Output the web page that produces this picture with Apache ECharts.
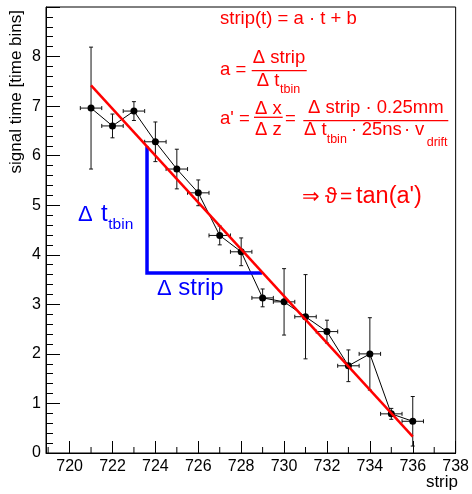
<!DOCTYPE html>
<html><head><meta charset="utf-8">
<script src="https://cdn.jsdelivr.net/npm/echarts@6/dist/echarts.min.js"></script>
<style>html,body{margin:0;padding:0;background:#fff}#c{width:472px;height:494px}</style>
</head><body><div id="c"></div>
<script>
// ---- data ----
const strips    = [721, 722, 723, 724, 725, 726, 727, 728, 729, 730, 731, 732, 733, 734, 735, 736];
const times     = [6.96, 6.60, 6.90, 6.28, 5.73, 5.25, 4.39, 4.06, 3.13, 3.05, 2.75, 2.45, 1.76, 2.00, 0.79, 0.64];
const timeErrs  = [1.23, 0.24, 0.19, 0.40, 0.40, 0.26, 0.19, 0.28, 0.18, 0.67, 0.85, 0.23, 0.32, 0.73, 0.11, 0.50];
const stripErrs = [0.5, 0.5, 0.5, 0.5, 0.5, 0.5, 0.5, 0.5, 0.5, 0.5, 0.5, 0.5, 0.5, 0.5, 0.5, 0.5];
const fitStrips = [721, 736];
const fitTimes  = [7.42, 0.33];
const triangleStrips = [723.61, 723.61, 728.97];
const triangleTimes  = [6.19, 3.63, 3.63];
const xMajorTicks = [720, 722, 724, 726, 728, 730, 732, 734, 736, 738];
const xTickLabels = ['720', '722', '724', '726', '728', '730', '732', '734', '736', '738'];
const xMinorTicks = [719, 721, 723, 725, 727, 729, 731, 733, 735, 737];
const yTickLabels = ['0', '1', '2', '3', '4', '5', '6', '7', '8', ''];

const FF = '"Liberation Sans", Arial, Helvetica, sans-serif';
const RED = '#ff0000', BLUE = '#0000ff';

function txt(text, x, base, size, color, align) {
  return {
    type: 'text', x: x, y: base - 0.35 * size, z: 100,
    style: { text: text, fontSize: size, fontFamily: FF, fill: color || '#000',
      align: align || 'left', textAlign: align || 'left',
      verticalAlign: 'middle', textVerticalAlign: 'middle' }
  };
}
function hline(x1, x2, y, color, w) {
  return { type: 'line', z: 100, shape: { x1: x1, y1: y, x2: x2, y2: y },
    style: { stroke: color, lineWidth: w } };
}

const R = 18.5, S = 12.5;
const graphics = [
  txt('strip(t) = a \u00b7 t + b', 220, 25.5, R, RED),
  txt('a =', 220, 76.5, R, RED),
  txt('\u0394 strip', 279, 64.5, R, RED, 'center'),
  hline(251.7, 306.7, 70.7, RED, 1.3),
  txt('\u0394 t', 256.7, 87.3, R, RED),
  txt('tbin', 280, 94, S, RED),
  txt("a' =", 220, 125.5, R, RED),
  txt('\u0394 x', 268.3, 115, R, RED, 'center'),
  hline(254, 282.7, 117.3, RED, 1.3),
  txt('\u0394 z', 268.3, 136.7, R, RED, 'center'),
  txt('=', 285, 125.5, R, RED),
  txt('\u0394 strip \u00b7 0.25mm', 375.8, 114, R, RED, 'center'),
  hline(303.3, 448.3, 120.7, RED, 1.3),
  txt('\u0394 t', 304, 136.7, R, RED),
  txt('tbin', 326.7, 144, S, RED),
  txt('\u00b7', 354, 136.7, R, RED, 'center'),
  txt('25ns', 361.7, 136.7, R, RED),
  txt('\u00b7', 407, 136.7, R, RED, 'center'),
  txt('v', 415, 136.7, R, RED),
  txt('drift', 426.7, 146.7, S, RED),
  txt('\u21d2', 302, 204.4, 21, RED),
  txt('\u03d1', 325, 204.4, 22, RED),
  txt('=', 340, 204.4, 21, RED),
  txt("tan(a')", 356, 204.4, 23.5, RED),
  // blue labels
  txt('\u0394', 78, 222.3, 22, BLUE),
  txt('t', 101, 222.3, 24, BLUE),
  txt('tbin', 108.3, 230, 15.5, BLUE),
  txt('\u0394', 157, 296.5, 22, BLUE),
  txt('strip', 178.3, 296.5, 24, BLUE),
  // axis titles
  { type: 'text', x: 16, y: 10, rotation: Math.PI / 2, z: 100,
    style: { text: 'signal time [time bins]', fontSize: 17, fontFamily: FF, fill: '#000',
      align: 'right', textAlign: 'right', verticalAlign: 'middle', textVerticalAlign: 'middle' } },
  txt('strip', 458, 488, 17, '#000', 'right')
];

const chart = echarts.init(document.getElementById('c'), null, { renderer: 'canvas' });
chart.setOption({
  animation: false,
  backgroundColor: '#fff',
  grid: { left: 46, right: 14, top: 7, bottom: 41, show: true, borderColor: '#000', borderWidth: 1, backgroundColor: 'transparent' },
  xAxis: {
    type: 'value', min: 718.9, max: 738,
    axisLine: { show: true, onZero: false, lineStyle: { color: '#000', width: 1 } },
    axisTick: { show: true, inside: true, length: 12, customValues: xMajorTicks, lineStyle: { color: '#000', width: 1 } },
    axisLabel: { show: true, customValues: xMajorTicks, color: '#000', fontSize: 16, fontFamily: FF, margin: 6,
      formatter: function (v) { const i = xMajorTicks.indexOf(Math.round(v)); return i >= 0 ? xTickLabels[i] : ''; } },
    splitLine: { show: false }
  },
  yAxis: {
    type: 'value', min: 0, max: 9, interval: 1,
    axisLine: { show: true, onZero: false, lineStyle: { color: '#000', width: 1 } },
    axisTick: { show: true, inside: true, length: 14, lineStyle: { color: '#000', width: 1 } },
    minorTick: { show: true, splitNumber: 5, length: 7, lineStyle: { color: '#000', width: 1 } },
    axisLabel: { color: '#000', fontSize: 16, fontFamily: FF, margin: 5,
      formatter: function (v) { return yTickLabels[Math.round(v)] || ''; } },
    splitLine: { show: false }, minorSplitLine: { show: false }
  },
  graphic: graphics,
  series: [
    { // minor x ticks
      type: 'custom', z: 1, silent: true,
      data: xMinorTicks.map(function (v) { return [v, 0]; }),
      renderItem: function (params, api) {
        const p = api.coord([api.value(0), 0]);
        return { type: 'line', shape: { x1: p[0], y1: p[1], x2: p[0], y2: p[1] - 6 }, style: { stroke: '#000', lineWidth: 1 } };
      }
    },
    { // error bars
      type: 'custom', z: 2, silent: true,
      data: strips.map(function (s, i) { return [s, times[i], stripErrs[i], timeErrs[i]]; }),
      renderItem: function (params, api) {
        const x = api.value(0), y = api.value(1), ex = api.value(2), ey = api.value(3);
        const l = api.coord([x - ex, y]), r = api.coord([x + ex, y]);
        const t = api.coord([x, y + ey]), b = api.coord([x, y - ey]);
        const c = 2, st = { stroke: '#111', lineWidth: 1 };
        return { type: 'group', children: [
          { type: 'line', shape: { x1: l[0], y1: l[1], x2: r[0], y2: r[1] }, style: st },
          { type: 'line', shape: { x1: t[0], y1: t[1], x2: b[0], y2: b[1] }, style: st },
          { type: 'line', shape: { x1: l[0], y1: l[1] - c, x2: l[0], y2: l[1] + c }, style: st },
          { type: 'line', shape: { x1: r[0], y1: r[1] - c, x2: r[0], y2: r[1] + c }, style: st },
          { type: 'line', shape: { x1: t[0] - c, y1: t[1], x2: t[0] + c, y2: t[1] }, style: st },
          { type: 'line', shape: { x1: b[0] - c, y1: b[1], x2: b[0] + c, y2: b[1] }, style: st }
        ] };
      }
    },
    {
      type: 'line', z: 3, silent: true,
      data: strips.map(function (s, i) { return [s, times[i]]; }),
      symbol: 'circle', symbolSize: 7,
      itemStyle: { color: '#000' },
      lineStyle: { color: '#000', width: 1 }
    },
    {
      type: 'line', z: 4, silent: true,
      data: triangleStrips.map(function (s, i) { return [s, triangleTimes[i]]; }),
      symbol: 'none', lineStyle: { color: BLUE, width: 3.5, cap: 'butt', join: 'miter' }
    },
    {
      type: 'line', z: 5, silent: true,
      data: fitStrips.map(function (s, i) { return [s, fitTimes[i]]; }),
      symbol: 'none', lineStyle: { color: RED, width: 2.5, cap: 'butt' }
    }
  ]
});
</script>
</body></html>
